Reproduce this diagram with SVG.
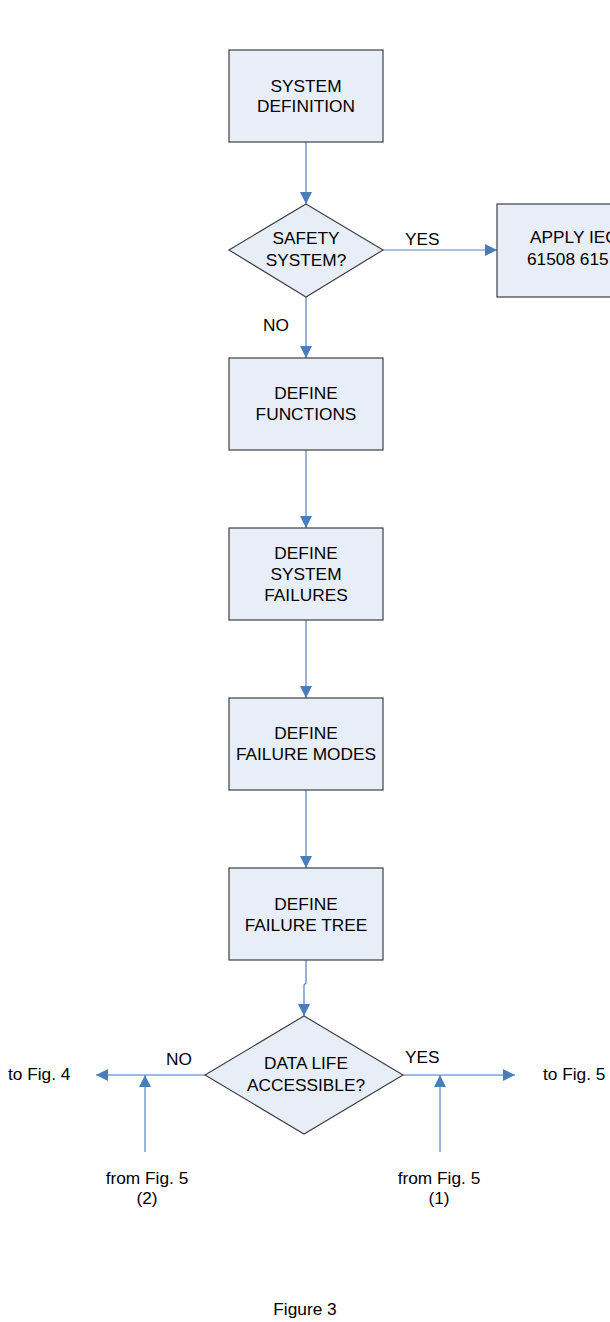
<svg xmlns="http://www.w3.org/2000/svg" width="610" height="1322" viewBox="0 0 610 1322">
<style>
text{font-family:"Liberation Sans",Arial,sans-serif;font-size:17.3px;fill:#000}
.c{text-anchor:middle}
.box{fill:#e8eef8;stroke:#404040;stroke-width:1.2}
.ln{fill:none;stroke:#4f81c4;stroke-width:1.2}
.lt{fill:none;stroke:#7fa3d6;stroke-width:1.6}
</style>
<defs>
<marker id="ah" markerUnits="userSpaceOnUse" markerWidth="12" markerHeight="12" refX="12" refY="6" orient="auto">
<path d="M0,0 L12,6 L0,12 z" fill="#4a7ebb"/>
</marker>
</defs>
<rect width="610" height="1322" fill="#fff"/>
<g id="connectors">
<line class="ln" x1="306" y1="142" x2="306" y2="204" marker-end="url(#ah)"/>
<line class="ln" x1="383" y1="250" x2="497" y2="250" marker-end="url(#ah)"/>
<line class="ln" x1="306" y1="297" x2="306" y2="358" marker-end="url(#ah)"/>
<line class="ln" x1="306" y1="450" x2="306" y2="528" marker-end="url(#ah)"/>
<line class="ln" x1="306" y1="620" x2="306" y2="698" marker-end="url(#ah)"/>
<line class="ln" x1="306" y1="790" x2="306" y2="868" marker-end="url(#ah)"/>
<polyline class="ln" points="306,960 306,983 304,985 304,1016" marker-end="url(#ah)"/>
<line class="lt" x1="205" y1="1075" x2="96" y2="1075" marker-end="url(#ah)"/>
<line class="lt" x1="145" y1="1152" x2="145" y2="1075" marker-end="url(#ah)"/>
<line class="lt" x1="403" y1="1075" x2="515" y2="1075" marker-end="url(#ah)"/>
<line class="lt" x1="440" y1="1152" x2="440" y2="1075" marker-end="url(#ah)"/>
<text x="405" y="245">YES</text>
<text x="263" y="331">NO</text>
<text x="166" y="1065">NO</text>
<text x="405" y="1063">YES</text>
</g>
<g id="n1">
<rect class="box" x="229" y="50" width="154" height="92"/>
<text class="c" x="306" y="92">SYSTEM</text>
<text class="c" x="306" y="112">DEFINITION</text>
</g>
<g id="n2">
<polygon class="box" points="306,204 383,250 306,297 229,250"/>
<text class="c" x="306" y="244">SAFETY</text>
<text class="c" x="306" y="266">SYSTEM?</text>
</g>
<g id="n3">
<rect class="box" x="497" y="204" width="160" height="93"/>
<text x="530" y="243">APPLY IEC</text>
<text x="527" y="265">61508 615</text>
</g>
<g id="n4">
<rect class="box" x="229" y="358" width="154" height="92"/>
<text class="c" x="306" y="399">DEFINE</text>
<text class="c" x="306" y="420">FUNCTIONS</text>
</g>
<g id="n5">
<rect class="box" x="229" y="528" width="154" height="92"/>
<text class="c" x="306" y="559">DEFINE</text>
<text class="c" x="306" y="580">SYSTEM</text>
<text class="c" x="306" y="601">FAILURES</text>
</g>
<g id="n6">
<rect class="box" x="229" y="698" width="154" height="92"/>
<text class="c" x="306" y="739">DEFINE</text>
<text class="c" x="306" y="760">FAILURE MODES</text>
</g>
<g id="n7">
<rect class="box" x="229" y="868" width="154" height="92"/>
<text class="c" x="306" y="910">DEFINE</text>
<text class="c" x="306" y="931">FAILURE TREE</text>
</g>
<g id="n8">
<polygon class="box" points="304,1016 403,1075 304,1134 205,1075"/>
<text class="c" x="306" y="1069">DATA LIFE</text>
<text class="c" x="306" y="1091">ACCESSIBLE?</text>
</g>
<g id="t1"><text x="8" y="1080">to Fig. 4</text></g>
<g id="t2"><text x="543" y="1080">to Fig. 5</text></g>
<g id="t3">
<text class="c" x="147" y="1184">from Fig. 5</text>
<text class="c" x="147" y="1204">(2)</text>
</g>
<g id="t4">
<text class="c" x="439" y="1184">from Fig. 5</text>
<text class="c" x="439" y="1204">(1)</text>
</g>
<g id="caption"><text class="c" x="305" y="1315">Figure 3</text></g>
</svg>
